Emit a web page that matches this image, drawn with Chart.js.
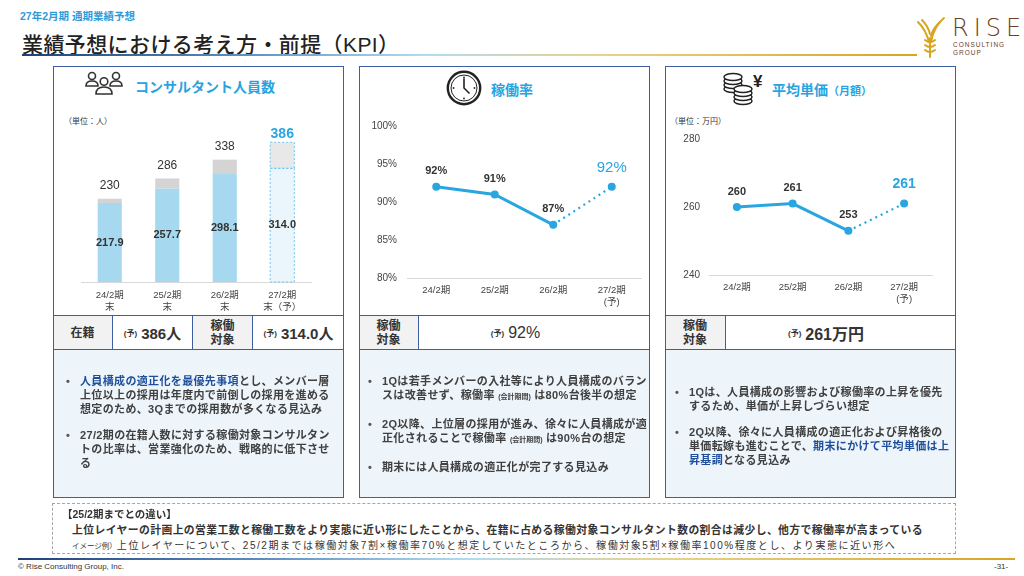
<!DOCTYPE html>
<html lang="ja">
<head>
<meta charset="utf-8">
<script src="https://cdn.jsdelivr.net/npm/chart.js@4.4.1/dist/chart.umd.min.js"></script>
<style>
  * { box-sizing: border-box; margin: 0; padding: 0; }
  body { width: 1024px; height: 576px; background: #fff; position: relative; overflow: hidden;
         font-family: "Liberation Sans", "Noto Sans CJK JP", sans-serif; color: #333; }
  .abs { position: absolute; }
  .frame { position: absolute; top: 66px; width: 291px; height: 432px; border: 1.5px solid #3b5fa0; }
  .row { position: absolute; top: 315px; height: 35px; display: flex; border-top: 1.5px solid #3b5fa0; border-bottom: 1.5px solid #3b5fa0; }
  .cell { height: 100%; display: flex; align-items: center; justify-content: center; text-align: center; border-right: 1.5px solid #3b5fa0; }
  .cell:last-child { border-right: none; }
  .lab { background: #f2f2f2; font-weight: bold; font-size: 12px; line-height: 14px; color: #333; }
  .val { font-weight: bold; font-size: 15px; color: #333; }
  .val small { font-size: 8px; font-weight: bold; margin-right: 4px; }
  .note { position: absolute; top: 350px; height: 148px; width: 291px; background: #edf4fa; }
  .note ul { list-style: none; position: absolute; left: 0; }
  .note li { position: relative; font-size: 11px; font-weight: bold; line-height: 14px; letter-spacing: 0.35px; color: #404040; white-space: nowrap; }
  .note li::before { content: "•"; position: absolute; left: -14px; color: #555; }
  .hl { color: #1f4e9c; }
  .tiny { font-size: 7px; letter-spacing: 0; }
  .ptitle { position: absolute; color: #29a3df; font-weight: bold; font-size: 14px; white-space: nowrap; }
  .unit { position: absolute; font-size: 8px; color: #333; }
  canvas { position: absolute; }
</style>
</head>
<body>

<!-- header -->
<div class="abs" style="left:20px;top:8px;font-size:10.5px;font-weight:bold;color:#2f9bd8;">27年2月期 通期業績予想</div>
<div class="abs" style="left:22px;top:28px;font-size:21px;font-weight:500;color:#222;letter-spacing:0.4px;">業績予想における考え方・前提（KPI）</div>
<div class="abs" style="left:22px;top:54px;width:895px;height:2px;background:linear-gradient(90deg,#1f3f77 0%,#5d8fc4 25%,#b3dbf0 45%,#e6d38a 65%,#d9a521 100%);"></div>
<svg class="abs" style="left:914px;top:16px;" width="36" height="42" viewBox="0 0 36 42">
  <g fill="none" stroke="#d9a521" stroke-width="2" stroke-linecap="round">
    <path d="M4 6 Q12 14 15 26"/><path d="M30 2 Q20 10 17 26"/>
    <path d="M8 4 Q14 10 16 18"/><path d="M26 6 Q19 12 17 20"/>
    <path d="M11 24 Q16 28 21 24"/><path d="M11 29 Q16 33 21 29"/><path d="M11 34 Q16 38 21 34"/>
    <path d="M16 22 L16 41"/>
  </g>
</svg>
<div class="abs" style="left:952px;top:14px;font-size:24px;letter-spacing:5px;color:#6b3d24;font-family:'DejaVu Sans','Liberation Sans';font-weight:300;">RISE</div>
<div class="abs" style="left:953px;top:41px;font-size:6.5px;letter-spacing:1px;color:#6b3d24;line-height:7.5px;">CONSULTING<br>GROUP</div>

<!-- panel 1 -->
<svg class="abs" style="left:84px;top:71px;" width="40" height="24" viewBox="0 0 40 24">
  <g fill="#fff" stroke="#333" stroke-width="1.6">
    <path d="M2 15 Q2 10 8 10 Q14 10 14 15 Z"/><circle cx="8" cy="5" r="3.5"/>
    <path d="M26 15 Q26 10 32 10 Q38 10 38 15 Z"/><circle cx="32" cy="5" r="3.5"/>
    <path d="M12 23 Q12 16 20 16 Q28 16 28 23 Z"/><circle cx="20" cy="10.5" r="3.8"/>
  </g>
</svg>
<div class="ptitle" style="left:135px;top:76px;">コンサルタント人員数</div>
<div class="unit" style="left:64px;top:115px;">（単位：人）</div>
<canvas id="headcountChart" width="286" height="214" style="left:55px;top:101px;width:286px;height:214px;"></canvas>
<div class="row" style="left:53px;width:291px;">
  <div class="cell lab" style="width:60px;">在籍</div>
  <div class="cell val" style="width:80px;"><small>(予)</small>386人</div>
  <div class="cell lab" style="width:60px;">稼働<br>対象</div>
  <div class="cell val" style="width:91px;"><small>(予)</small>314.0人</div>
</div>
<div class="note" style="left:53px;">
  <ul style="left:27px;top:24px;">
    <li><span class="hl">人員構成の適正化を最優先事項</span>とし、メンバー層<br>上位以上の採用は年度内で前倒しの採用を進める<br>想定のため、3Qまでの採用数が多くなる見込み</li>
    <li style="margin-top:12px;">27/2期の在籍人数に対する稼働対象コンサルタン<br>トの比率は、営業強化のため、戦略的に低下させ<br>る</li>
  </ul>
</div>
<div class="frame" style="left:53px;"></div>

<!-- panel 2 -->
<svg class="abs" style="left:446px;top:70px;" width="36" height="36" viewBox="0 0 36 36">
  <circle cx="18" cy="18" r="16.2" fill="none" stroke="#222" stroke-width="2.4"/>
  <circle cx="18" cy="18" r="13" fill="none" stroke="#222" stroke-width="1"/>
  <g fill="#222"><circle cx="18" cy="7.5" r="0.9"/><circle cx="28.5" cy="18" r="0.9"/><circle cx="18" cy="28.5" r="0.9"/><circle cx="7.5" cy="18" r="0.9"/></g>
  <path d="M18 8.5 L18 18 L23.5 23.5" fill="none" stroke="#222" stroke-width="1.6"/>
</svg>
<div class="ptitle" style="left:491px;top:79px;">稼働率</div>
<canvas id="rateChart" width="288" height="204" style="left:360px;top:110px;width:288px;height:204px;"></canvas>
<div class="row" style="left:359px;width:291px;">
  <div class="cell lab" style="width:60px;">稼働<br>対象</div>
  <div class="cell val" style="width:231px;padding-right:38px;font-weight:500;font-size:16px;"><small>(予)</small>92%</div>
</div>
<div class="note" style="left:359px;">
  <ul style="left:23px;top:24px;">
    <li>1Qは若手メンバーの入社等により人員構成のバラン<br>スは改善せず、稼働率 <span class="tiny">(会計期間)</span> は80%台後半の想定</li>
    <li style="margin-top:13px;">2Q以降、上位層の採用が進み、徐々に人員構成が適<br>正化されることで稼働率 <span class="tiny">(会計期間)</span> は90%台の想定</li>
    <li style="margin-top:13px;">期末には人員構成の適正化が完了する見込み</li>
  </ul>
</div>
<div class="frame" style="left:359px;"></div>

<!-- panel 3 -->
<svg class="abs" style="left:722px;top:70px;" width="44" height="36" viewBox="0 0 44 36">
  <g fill="#fff" stroke="#222" stroke-width="1.5">
    <ellipse cx="11" cy="19" rx="9" ry="3.5"/><ellipse cx="11" cy="15" rx="9" ry="3.5"/>
    <ellipse cx="11" cy="11" rx="9" ry="3.5"/><ellipse cx="11" cy="7" rx="9" ry="3.5"/>
    <ellipse cx="21" cy="31" rx="9" ry="3.5"/><ellipse cx="21" cy="27" rx="9" ry="3.5"/>
    <ellipse cx="21" cy="23" rx="9" ry="3.5"/><ellipse cx="21" cy="19" rx="9" ry="3.5"/>
  </g>
  <text x="31" y="17" font-size="17" font-weight="bold" fill="#222" font-family="Liberation Sans">¥</text>
</svg>
<div class="ptitle" style="left:772px;top:79px;">平均単価<span style="font-size:11px;">（月額）</span></div>
<div class="unit" style="left:670px;top:115px;">（単位：万円）</div>
<canvas id="priceChart" width="288" height="190" style="left:666px;top:124px;width:288px;height:190px;"></canvas>
<div class="row" style="left:665px;width:291px;">
  <div class="cell lab" style="width:61px;">稼働<br>対象</div>
  <div class="cell val" style="width:230px;padding-right:30px;font-size:16px;"><small>(予)</small>261万円</div>
</div>
<div class="note" style="left:665px;">
  <ul style="left:24px;top:35px;">
    <li>1Qは、人員構成の影響および稼働率の上昇を優先<br>するため、単価が上昇しづらい想定</li>
    <li style="margin-top:12px;">2Q以降、徐々に人員構成の適正化および昇格後の<br>単価転嫁も進むことで、<span class="hl">期末にかけて平均単価は上<br>昇基調</span>となる見込み</li>
  </ul>
</div>
<div class="frame" style="left:665px;"></div>

<!-- bottom note -->
<div class="abs" style="left:52px;top:503px;width:904px;height:51px;border:1px dashed #a6a6a6;"></div>
<div class="abs" style="left:62px;top:506px;font-size:10.5px;font-weight:bold;color:#333;">【25/2期までとの違い】</div>
<div class="abs" style="left:72px;top:521px;font-size:10.8px;font-weight:bold;color:#333;letter-spacing:0.42px;white-space:nowrap;">上位レイヤーの計画上の営業工数と稼働工数をより実態に近い形にしたことから、在籍に占める稼働対象コンサルタント数の割合は減少し、他方で稼働率が高まっている</div>
<div class="abs" style="left:72px;top:537px;font-size:10px;color:#333;letter-spacing:1.55px;white-space:nowrap;"><span style="font-size:7.5px;letter-spacing:0;">イメージ例）</span>上位レイヤーについて、25/2期までは稼働対象7割×稼働率70%と想定していたところから、稼働対象5割×稼働率100%程度とし、より実態に近い形へ</div>

<!-- footer -->
<div class="abs" style="left:18px;top:558px;width:997px;height:2px;background:linear-gradient(90deg,#1f3f77 0%,#5d8fc4 25%,#b3dbf0 45%,#e6d38a 65%,#d9a521 100%);"></div>
<div class="abs" style="left:18px;top:562px;font-size:8px;color:#333;">© Rise Consulting Group, Inc.</div>
<div class="abs" style="left:994px;top:562px;font-size:8px;color:#333;">-31-</div>

<script>
// consultant headcount (persons)
const headcountLabels = [['24/2期', '末'], ['25/2期', '末'], ['26/2期', '末'], ['27/2期', '末（予）']];
const activeHeadcount = [217.9, 257.7, 298.1, 314.0];
const otherHeadcount = [12.1, 28.3, 39.9, 72.0];
const totalHeadcount = [230, 286, 338, 386];

// utilization rate (%)
const periodLabels = ['24/2期', '25/2期', '26/2期', ['27/2期', '(予)']];
const utilizationRate = [92, 91, 87, 92];

// average monthly unit price (10k yen)
const unitPrice = [260, 261, 253, 261];

const FONT = '"Liberation Sans", "Noto Sans CJK JP", sans-serif';
const BLUE = '#29a6e0';
Chart.defaults.font.family = FONT;
Chart.defaults.color = '#444';
Chart.defaults.animation = false;

const barLabels = {
  id: 'barLabels',
  afterDatasetsDraw(chart) {
    const ctx = chart.ctx;
    const blueBars = chart.getDatasetMeta(0).data;
    const greyBars = chart.getDatasetMeta(1).data;
    const last = blueBars.length - 1;
    ctx.save();
    // forecast bar gets a dashed outline
    ctx.setLineDash([2, 2]);
    ctx.strokeStyle = '#6cc6ee';
    ctx.lineWidth = 1;
    [blueBars[last], greyBars[last]].forEach(b => {
      ctx.strokeRect(b.x - b.width / 2, b.y, b.width, b.base - b.y);
    });
    ctx.setLineDash([]);
    ctx.textAlign = 'center';
    ctx.textBaseline = 'middle';
    blueBars.forEach((b, i) => {
      ctx.font = 'bold 11px ' + FONT;
      ctx.fillStyle = '#333';
      ctx.fillText(activeHeadcount[i].toFixed(1), b.x, (b.y + b.base) / 2);
    });
    greyBars.forEach((b, i) => {
      const fc = i === last;
      ctx.font = (fc ? 'bold 14px ' : '12px ') + FONT;
      ctx.fillStyle = fc ? BLUE : '#333';
      ctx.fillText(String(totalHeadcount[i]), b.x, b.y - (fc ? 8 : 13));
    });
    ctx.restore();
  }
};

function pointLabels(values, suffix, lastFont) {
  return {
    id: 'pointLabels',
    afterDatasetsDraw(chart) {
      const ctx = chart.ctx;
      const pts = chart.getDatasetMeta(0).data;
      ctx.save();
      ctx.textAlign = 'center';
      ctx.textBaseline = 'middle';
      pts.forEach((p, i) => {
        const fc = i === pts.length - 1;
        ctx.font = (fc ? lastFont : 'bold 11px ') + FONT;
        ctx.fillStyle = fc ? BLUE : '#333';
        ctx.fillText(values[i] + suffix, p.x, p.y - (fc ? 19 : 15.5));
      });
      ctx.restore();
    }
  };
}

new Chart(document.getElementById('headcountChart'), {
  type: 'bar',
  data: {
    labels: headcountLabels,
    datasets: [
      { data: activeHeadcount, backgroundColor: ['#a6d9f0', '#a6d9f0', '#a6d9f0', '#ebf5fc'], borderWidth: 0 },
      { data: otherHeadcount, backgroundColor: ['#d4d4d4', '#d4d4d4', '#d4d4d4', '#e8e8e8'], borderWidth: 0 }
    ]
  },
  options: {
    responsive: false,
    layout: { padding: { left: 26, right: 30, top: 0, bottom: 0 } },
    datasets: { bar: { categoryPercentage: 1, barPercentage: 0.42 } },
    plugins: { legend: { display: false }, tooltip: { enabled: false } },
    scales: {
      x: {
        stacked: true,
        grid: { display: false, drawTicks: false },
        border: { color: '#d9d9d9' },
        ticks: { font: { size: 9.5 }, color: '#444', padding: 8, maxRotation: 0, autoSkip: false },
        afterFit: s => { s.height = 33; }
      },
      y: { stacked: true, display: false, min: 0, max: 500 }
    }
  },
  plugins: [barLabels]
});

function lineConfig(values, yMin, yMax, step, suffix, yWidth, xHeight, pad, tickPad, lastFont) {
  return {
    type: 'line',
    data: {
      labels: periodLabels,
      datasets: [{
        data: values,
        borderColor: BLUE,
        backgroundColor: BLUE,
        borderWidth: 3,
        pointRadius: 4,
        pointBorderWidth: 0,
        segment: {
          borderDash: c => c.p1DataIndex === values.length - 1 ? [2, 4] : undefined,
          borderWidth: c => c.p1DataIndex === values.length - 1 ? 2.2 : 3
        }
      }]
    },
    options: {
      responsive: false,
      layout: { padding: pad },
      plugins: { legend: { display: false }, tooltip: { enabled: false } },
      scales: {
        x: {
          offset: true,
          grid: { display: false, drawTicks: false, offset: true },
          border: { color: '#d9d9d9' },
          ticks: { font: { size: 9.5 }, color: '#444', padding: 7, maxRotation: 0, autoSkip: false },
          afterFit: s => { s.height = xHeight; }
        },
        y: {
          min: yMin, max: yMax,
          grid: { display: false, drawTicks: false },
          border: { display: false },
          ticks: { stepSize: step, font: { size: 10 }, color: '#444', padding: tickPad, callback: v => v + suffix },
          afterFit: s => { s.width = yWidth; }
        }
      }
    },
    plugins: [pointLabels(values, suffix, lastFont)]
  };
}

new Chart(document.getElementById('rateChart'),
  lineConfig(utilizationRate, 80, 100, 5, '%', 47, 36, { top: 13, right: 7, left: 0, bottom: 0 }, 10, '15px '));

new Chart(document.getElementById('priceChart'),
  lineConfig(unitPrice, 240, 280, 20, '', 43, 39, { top: 14, right: 22, left: 0, bottom: 0 }, 9, 'bold 14px '));
</script>
</body>
</html>
